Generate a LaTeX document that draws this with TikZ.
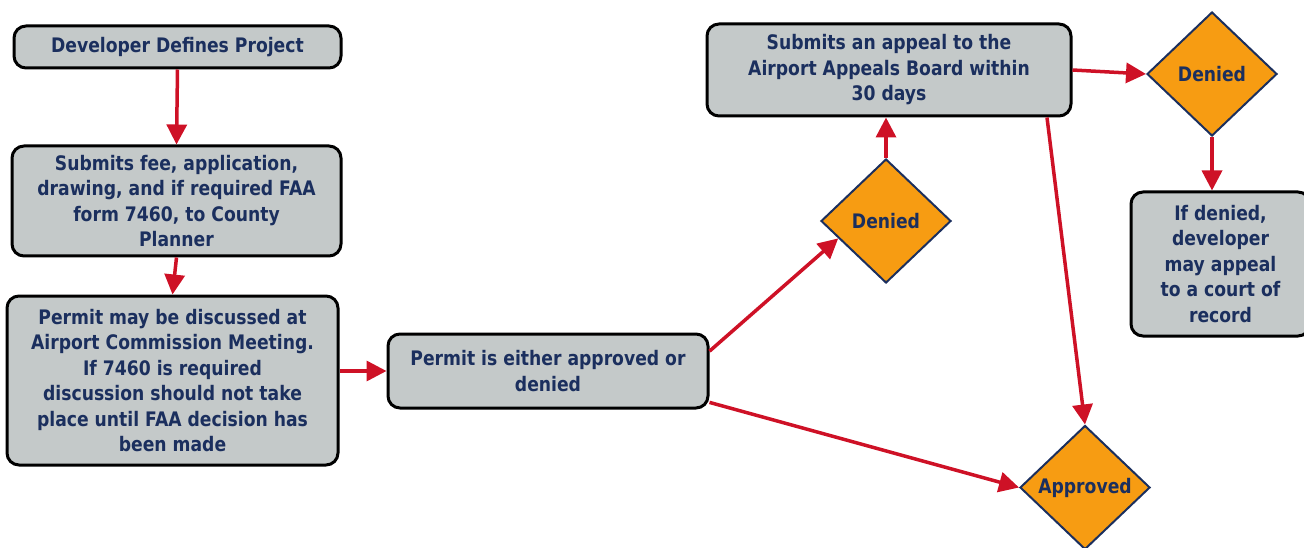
\documentclass[tikz,border=0pt]{standalone}
\usepackage{fontspec}
\setmainfont{DejaVu Sans}[FakeStretch=0.86]
\usetikzlibrary{shapes.geometric,arrows.meta}
\definecolor{boxgray}{HTML}{C4C9C9}
\definecolor{textnavy}{HTML}{1B2F5E}
\definecolor{arrowred}{HTML}{CE1126}
\definecolor{decorange}{HTML}{F79C12}

\begin{document}
\begin{tikzpicture}[x=1pt, y=-1pt,
  stepbox/.style={draw=black, line width=3pt, rounded corners=12pt, fill=boxgray,
    text=textnavy, font=\bfseries\fontsize{20}{25.5}\selectfont, align=center, inner sep=0pt},
  decision/.style={diamond, draw=textnavy, line width=2pt, fill=decorange, text=textnavy,
    font=\bfseries\fontsize{20}{23}\selectfont, inner sep=0pt,
    minimum width=130pt, minimum height=124pt},
  flow/.style={draw=arrowred, line width=3.5pt, -{Triangle[length=20pt, width=20pt]}}]
\useasboundingbox (0,0) rectangle (1304,548);

% boxes
\node[stepbox, minimum width=327pt, minimum height=42pt] (dev) at (177.5, 47) {Developer Defines Project};
\node[stepbox, minimum width=329pt, minimum height=110pt] (submit) at (176.5, 201)
  {Submits fee, application,\\ drawing, and if required FAA\\ form 7460, to County\\ Planner};
\node[stepbox, minimum width=331pt, minimum height=169pt] (discuss) at (172.5, 380.5)
  {Permit may be discussed at\\ Airport Commission Meeting.\\ If 7460 is required\\ discussion should not take\\ place until FAA decision has\\ been made};
\node[stepbox, minimum width=320pt, minimum height=74pt] (either) at (548, 371)
  {Permit is either approved or\\ denied};
\node[stepbox, minimum width=364pt, minimum height=92pt] (appeal) at (889, 70)
  {Submits an appeal to the\\ Airport Appeals Board within\\ 30 days};
\node[stepbox, minimum width=179pt, minimum height=144pt] (court) at (1220.5, 264)
  {If denied,\\ developer\\ may appeal\\ to a court of\\ record};

% decisions
\node[decision] (den1) at (886, 221) {Denied};
\node[decision] (den2) at (1212, 74) {Denied};
\node[decision] (appr) at (1085, 487.5) {Approved};

% arrows
\draw[flow] (dev.south) -- (submit.north);
\draw[flow] (submit.south) -- (discuss.north);
\draw[flow] (discuss.east |- either.west) -- (either.west);
\draw[flow] (either.7.5) -- (den1.200);
\draw[flow] (either.-11) -- (appr.west);
\draw[flow] (den1.north) -- (den1.north |- appeal.south);
\draw[flow] (appeal.east) -- (den2.west);
\draw[flow] ([xshift=158pt]appeal.south) -- (appr.north);
\draw[flow] (den2.south) -- (den2.south |- court.north);

\end{tikzpicture}
\end{document}
